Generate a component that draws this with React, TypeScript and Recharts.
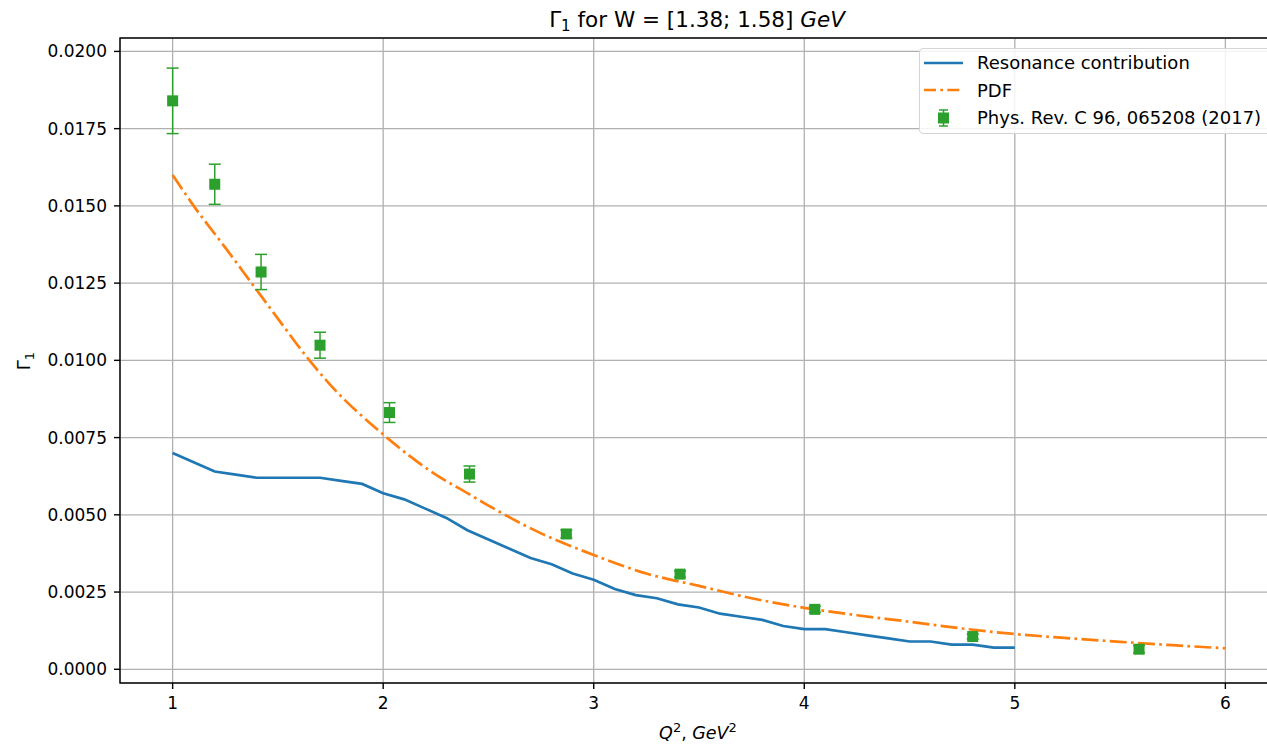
import React from 'react';
import {
  ComposedChart,
  Line,
  Scatter,
  ErrorBar,
  XAxis,
  YAxis,
  CartesianGrid,
} from 'recharts';

// Resonance contribution (blue line)
const resQ2 = [
  1.0, 1.1, 1.2, 1.3, 1.4, 1.5, 1.6, 1.7, 1.8, 1.9, 2.0, 2.1, 2.2, 2.3, 2.4, 2.5, 2.6, 2.7, 2.8, 2.9, 3.0,
  3.1, 3.2, 3.3, 3.4, 3.5, 3.6, 3.7, 3.8, 3.9, 4.0, 4.1, 4.2, 4.3, 4.4, 4.5, 4.6, 4.7, 4.8, 4.9, 5.0,
];
const resG1 = [
  0.0070, 0.0067, 0.0064, 0.0063, 0.0062, 0.0062, 0.0062, 0.0062, 0.0061, 0.0060, 0.0057, 0.0055, 0.0052,
  0.0049, 0.0045, 0.0042, 0.0039, 0.0036, 0.0034, 0.0031, 0.0029, 0.0026, 0.0024, 0.0023, 0.0021, 0.0020,
  0.0018, 0.0017, 0.0016, 0.0014, 0.0013, 0.0013, 0.0012, 0.0011, 0.0010, 0.0009, 0.0009, 0.0008, 0.0008,
  0.0007, 0.0007,
];

// PDF curve (orange dash-dot)
const pdfQ2 = [
  1.0, 1.1, 1.25, 1.375, 1.5, 1.65, 1.75, 2.0, 2.25, 2.4, 2.5, 2.75, 3.0, 3.25, 3.5, 3.75, 4.0, 4.25, 4.5,
  4.75, 5.0, 5.25, 5.5, 5.75, 6.0,
];
const pdfG1 = [
  0.0160, 0.0150, 0.01365, 0.0125, 0.01135, 0.0100, 0.0092, 0.0076, 0.0063, 0.0057, 0.0053, 0.0044, 0.0037,
  0.0031, 0.0027, 0.0023, 0.00199, 0.00175, 0.00154, 0.00132, 0.00114, 0.00101, 0.00089, 0.00078, 0.00068,
];

// Phys. Rev. C 96, 065208 (2017) (green squares with error bars)
const expQ2 = [1.0, 1.2, 1.42, 1.70, 2.03, 2.41, 2.87, 3.41, 4.05, 4.80, 5.59];
const expG1 = [0.0184, 0.0157, 0.01286, 0.01049, 0.00831, 0.00632, 0.00438, 0.00308, 0.00194, 0.00106, 0.00065];
const expErr = [0.00106, 0.00065, 0.00057, 0.00042, 0.00032, 0.00026, 0.00013, 0.0001, 0.0001, 0.00008, 0.00012];

const xTicks = [1, 2, 3, 4, 5, 6];
const yTicks = [0, 0.0025, 0.005, 0.0075, 0.01, 0.0125, 0.015, 0.0175, 0.02];

const resData = resQ2.map((x, i) => ({ x, y: resG1[i] }));
const pdfData = pdfQ2.map((x, i) => ({ x, y: pdfG1[i] }));
const expData = expQ2.map((x, i) => ({ x, y: expG1[i], err: expErr[i] }));

const BLUE = '#1f77b4';
const ORANGE = '#ff7f0e';
const GREEN = '#2ca02c';
const FONT = '"DejaVu Sans", Verdana, sans-serif';
const DASHDOT = '17 4.3 2.7 4.3';

const SquareMarker = (props: any) => {
  const { cx, cy } = props;
  if (cx == null || cy == null) return null;
  return <rect x={cx - 5.5} y={cy - 5.5} width={11} height={11} fill={GREEN} />;
};

const LegendBox = () => (
  <div
    style={{
      position: 'absolute',
      left: 919,
      top: 48,
      width: 360,
      height: 86,
      boxSizing: 'border-box',
      border: '1px solid #d5d5d5',
      borderRadius: 4,
      background: 'rgba(255,255,255,0.85)',
      fontFamily: FONT,
      fontSize: 18,
      color: '#000',
    }}
  >
    <svg width={60} height={84} style={{ position: 'absolute', left: 0, top: 0 }}>
      <line x1={4} y1={14} x2={43} y2={14} stroke={BLUE} strokeWidth={2.7} />
      <line x1={4} y1={41} x2={43} y2={41} stroke={ORANGE} strokeWidth={2.7} strokeDasharray="12 4.3 2.7 4.3" />
      <line x1={23.5} y1={61} x2={23.5} y2={77} stroke={GREEN} strokeWidth={1.5} />
      <line x1={19} y1={61} x2={28} y2={61} stroke={GREEN} strokeWidth={1.5} />
      <line x1={19} y1={77} x2={28} y2={77} stroke={GREEN} strokeWidth={1.5} />
      <rect x={18} y={63.5} width={11} height={11} fill={GREEN} />
    </svg>
    <div style={{ position: 'absolute', left: 57, top: 0, lineHeight: '27.5px', whiteSpace: 'nowrap' }}>
      <div>Resonance contribution</div>
      <div>PDF</div>
      <div>Phys. Rev. C 96, 065208 (2017)</div>
    </div>
  </div>
);

export default function App() {
  return (
    <div
      style={{
        position: 'absolute',
        left: 0,
        top: 0,
        width: 1267,
        height: 750,
        overflow: 'hidden',
        background: '#fff',
      }}
    >
      <ComposedChart
        width={1290}
        height={750}
        margin={{ top: 38, right: 12, bottom: 0, left: 0 }}
        style={{ fontFamily: FONT }}
      >
        <CartesianGrid stroke="#b0b0b0" strokeWidth={1.3} />
        <XAxis
          type="number"
          dataKey="x"
          domain={[0.75, 6.25]}
          ticks={xTicks}
          allowDataOverflow
          height={67}
          axisLine={false}
          tickLine={{ stroke: '#000', strokeWidth: 1.4 }}
          tickSize={6}
          tickMargin={8}
          tick={{ fill: '#000', fontSize: 17, fontFamily: FONT }}
        />
        <YAxis
          type="number"
          dataKey="y"
          domain={[-0.000444, 0.020434]}
          ticks={yTicks}
          allowDataOverflow
          width={120}
          axisLine={false}
          tickLine={{ stroke: '#000', strokeWidth: 1.4 }}
          tickSize={6}
          tickMargin={7}
          tickFormatter={(v: number) => v.toFixed(4)}
          tick={{ fill: '#000', fontSize: 17, fontFamily: FONT }}
        />
        <Line
          data={resData}
          dataKey="y"
          type="linear"
          stroke={BLUE}
          strokeWidth={2.7}
          dot={false}
          activeDot={false}
          isAnimationActive={false}
        />
        <Line
          data={pdfData}
          dataKey="y"
          type="monotone"
          stroke={ORANGE}
          strokeWidth={2.7}
          strokeDasharray={DASHDOT}
          dot={false}
          activeDot={false}
          isAnimationActive={false}
        />
        <Scatter data={expData} dataKey="y" fill={GREEN} shape={SquareMarker} isAnimationActive={false}>
          <ErrorBar dataKey="err" direction="y" width={6} stroke={GREEN} strokeWidth={1.5} isAnimationActive={false} />
        </Scatter>
      </ComposedChart>

      <svg
        width={1267}
        height={750}
        style={{ position: 'absolute', left: 0, top: 0, pointerEvents: 'none', fontFamily: FONT }}
      >
        <rect x={120} y={38} width={1158} height={645} fill="none" stroke="#000" strokeWidth={1.4} />
        <text x={697} y={27} textAnchor="middle" fontSize={21.5} fill="#000">
          <tspan>Γ</tspan>
          <tspan dy={4} fontSize={15}>1</tspan>
          <tspan dy={-4}> for W = [1.38; 1.58] </tspan>
          <tspan fontStyle="italic">GeV</tspan>
        </text>
        <text transform="translate(30,361) rotate(-90)" textAnchor="middle" fontSize={18} fill="#000">
          <tspan>Γ</tspan>
          <tspan dy={4} fontSize={13}>1</tspan>
        </text>
        <text x={698} y={739} textAnchor="middle" fontSize={17.5} fill="#000">
          <tspan fontStyle="italic">Q</tspan>
          <tspan dy={-7} fontSize={13}>2</tspan>
          <tspan dy={7}>, </tspan>
          <tspan fontStyle="italic">GeV</tspan>
          <tspan dy={-7} fontSize={13}>2</tspan>
        </text>
      </svg>
      <LegendBox />
    </div>
  );
}
